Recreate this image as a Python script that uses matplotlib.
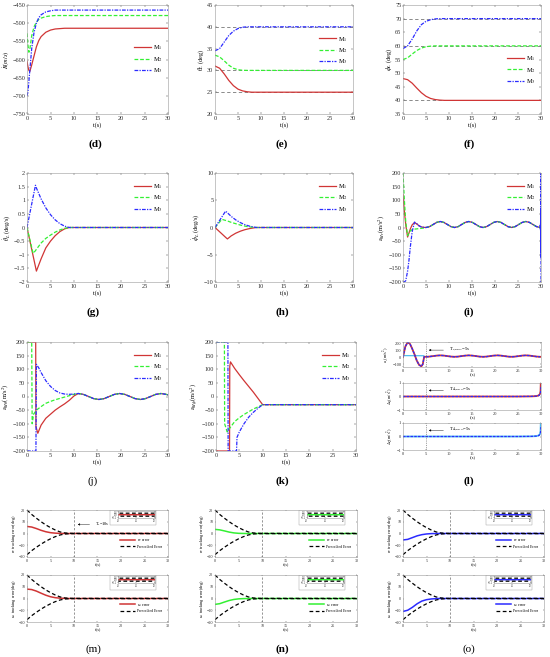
import numpy as np
import matplotlib.pyplot as plt
from matplotlib.patches import Rectangle

plt.rcParams['font.family'] = ['Liberation Serif', 'DejaVu Serif']
plt.rcParams['mathtext.fontset'] = 'stix'

# ---------------- data ----------------
names = ['M$_1$', 'M$_2$', 'M$_3$']

# (d) range rate
d_t = [0, 0.2, 0.4, 0.6, 1, 1.5, 2, 2.5, 3, 4, 5, 6, 8, 30]
d_m1 = [-605, -620, -630, -633, -615, -590, -565, -548, -537, -525, -519, -516, -514, -514]
d_m2 = [-528, -560, -580, -572, -535, -510, -497, -490, -486, -482, -480, -479, -479, -479]
d_m3 = [-700, -690, -660, -630, -570, -525, -500, -485, -477, -469, -466, -464, -464, -464]

# (e) theta_L, (f) phi_L
ef_t = [0, 1, 2, 3, 4, 5, 6, 7, 8, 9, 30]
e_m1 = [31, 30.5, 29.2, 27.7, 26.5, 25.7, 25.3, 25.1, 25.0, 25.0, 25.0]
e_m2 = [33.5, 33.1, 32.2, 31.2, 30.5, 30.15, 30.03, 30, 30, 30, 30]
e_m3 = [34.5, 35.0, 36.5, 38.0, 39.0, 39.6, 39.9, 40.0, 40, 40, 40]
e_ref = [25, 30, 40]
f_m1 = [48, 47.6, 46.3, 44.5, 42.8, 41.5, 40.7, 40.3, 40.1, 40, 40]
f_m2 = [55, 55.6, 57.0, 58.3, 59.2, 59.7, 59.9, 60, 60, 60, 60]
f_m3 = [59, 60, 62.5, 65.5, 67.8, 69.0, 69.6, 69.9, 70, 70, 70]
f_ref = [40, 60, 70]

# (g) theta_L rate
g_t = [0, 1.3, 1.8, 2, 3, 4, 5, 6, 7, 8, 9, 30]
g_m1 = [0, -1.04, -1.44, -1.6, -1.15, -0.75, -0.5, -0.3, -0.15, -0.05, 0, 0]
g_m2 = [0, -0.95, -0.85, -0.8, -0.57, -0.4, -0.28, -0.17, -0.09, -0.03, 0, 0]
g_m3 = [0, 1.12, 1.55, 1.45, 1.05, 0.72, 0.47, 0.28, 0.14, 0.05, 0, 0]

# (h) phi_L rate
h_t = [0, 1.5, 2.3, 2.7, 3.5, 4.5, 5.5, 6.5, 7.5, 8.5, 9, 30]
h_m1 = [0, -1.17, -1.8, -2.1, -1.55, -1.05, -0.68, -0.4, -0.2, -0.06, 0, 0]
h_m2 = [0, 1.5, 1.3, 1.2, 0.95, 0.7, 0.45, 0.25, 0.1, 0.03, 0, 0]
h_m3 = [0, 1.95, 3.0, 2.7, 2.05, 1.4, 0.9, 0.52, 0.25, 0.08, 0, 0]

# (i) acceleration, transient + shared wave + end burst
i_t = [0, 0.3, 0.6, 1.0, 1.3, 1.6, 2.0, 2.5, 3.0, 3.5, 4.0, 4.5, 5.0]
i_m1 = [120, 60, 10, -35, -20, -5, 10, 18, 13, 6, 2, 0.5, 0]
i_m2 = [200, 100, 20, -30, -18, -12, -8, -6, -5, -4, -3, -2, 0]
i_m3 = [-200, -200, -195, -160, -120, -70, -15, 20, 14, 6, 2, 0.5, 0]
i_wave_t = np.linspace(5, 29.8, 33)
i_wave = [0, 3.2, 11, 18.8, 22, 18.8, 11, 3.2, 0, 3.2, 11, 18.8, 22, 18.8, 11, 3.2,
          0, 3.2, 11, 18.8, 22, 18.8, 11, 3.2, 0, 3.2, 11, 18.8, 22, 18.8, 11, 3.2, 0]
i_tail_t = [29.8, 29.84, 29.87, 29.9, 29.92, 29.94, 29.96, 29.97, 29.98, 29.99, 30.0]
i_tail = [0, 8, -8, 15, -20, 30, -45, 70, -110, 200, -200]

# (j)
j_t1 = [0, 1.85, 1.9, 2.3, 3, 4, 5, 6, 7, 8, 9, 10, 10.9]
j_m1 = [200, 200, -110, -135, -105, -80, -65, -50, -38, -27, -14, 2, 11]
j_t2 = [0, 1.0, 1.1, 1.4, 2, 3, 4, 5, 6, 7, 8, 9, 10, 10.9]
j_m2 = [200, 200, -100, -65, -50, -37, -25, -18, -12, -7, -2, 3, 8, 11]
j_t3 = [0, 1.9, 2.0, 2.5, 3, 4, 5, 6, 7, 8, 9, 10, 10.9]
j_m3 = [-200, -200, 118, 105, 88, 58, 37, 22, 13, 9, 8, 9, 11]
j_wave_t = [10.9, 12.0, 13.1, 14.2, 15.3, 16.4, 17.5, 18.6, 19.7, 20.8, 21.9, 23.0,
            24.1, 25.2, 26.3, 27.4, 28.5, 29.6, 30.0]
j_wave = [11, 7.8, 0, -7.8, -11, -7.8, 0, 7.8, 11, 7.8, 0, -7.8, -11, -7.8, 0, 7.8, 11, 7.8, 6]

# (k)
k_t1 = [0, 2.9, 2.95, 3.1, 4, 5, 6, 7, 8, 9, 10, 30]
k_m1 = [-200, -200, 110, 127, 103, 80, 58, 37, 16, -7, -30, -30]
k_t2 = [0, 1.8, 1.85, 2.4, 3, 4, 5, 6, 7, 8, 9, 10, 30]
k_m2 = [200, 200, -100, -130, -115, -92, -78, -66, -56, -46, -38, -30, -30]
k_t3 = [0, 2.55, 2.6, 4.4, 4.5, 5, 6, 7, 8, 9, 10, 30]
k_m3 = [200, 200, -200, -200, -150, -130, -100, -76, -58, -43, -30, -30]

# (l) three stacked plots
l1_t = [0, 0.5, 1, 1.5, 2, 2.5, 3, 3.5, 4, 4.3, 4.6, 5]
l1_val = [0, 150, 210, 190, 120, 40, -50, -110, -130, -100, 5, 5]
l1_wave_t = np.linspace(5, 29.8, 33)
l1_wave = [5, 8, 15, 22, 25, 22, 15, 8, 5, 8, 15, 22, 25, 22, 15, 8,
           5, 8, 15, 22, 25, 22, 15, 8, 5, 8, 15, 22, 25, 22, 15, 8, 5]
l1_ref_t = [0, 4.5]
l1_ref = [22, 20]
l2_t = [0, 25, 28, 29, 29.5, 29.8, 29.9, 29.95, 30]
l2_red = [0, 0, 0.01, 0.03, 0.08, 0.2, 0.4, 1.0, 1.6]
l2_blue = [0, 0, 0.01, 0.03, 0.07, 0.15, 0.3, 0.5, 0.8]
l3_lb = [0, 0, 0.01, 0.03, 0.08, 0.2, 0.4, 1.0, 1.6]

# prescribed error envelope for (m)-(o)
pb_t = [0, 1, 2, 3, 4, 5, 6, 7, 8, 9, 10, 30]
pb_up = [20, 16.2, 13, 10, 7.3, 5, 3, 1.4, 0.5, 0.2, 0.12, 0.12]
pb_lo = [-18, -14.6, -11.7, -9, -6.6, -4.5, -2.7, -1.3, -0.45, -0.18, -0.12, -0.12]

# ---------------- drawing ----------------
W, H = 550, 657
RED, GREEN, BLUE, LBLUE = '#D03535', '#33F033', '#2B2BFF', '#4DBEEE'
STY = [dict(color=RED, ls='-', lw=0.9),
       dict(color=GREEN, ls=(0, (3, 1.5)), lw=0.9),
       dict(color=BLUE, ls=(0, (3, 1, 1, 1)), lw=0.9)]

fig = plt.figure(figsize=(5.5, 6.57), dpi=100)


def box(l, t, r, b):
    return fig.add_axes([l / W, 1 - b / H, (r - l) / W, (b - t) / H])


def dress(ax, fs=4.5, ln=1.5, pad=1.2):
    ax.tick_params(direction='in', top=True, right=True, length=ln, width=0.3,
                   labelsize=fs, pad=pad, colors='#303030')
    for s in ax.spines.values():
        s.set_linewidth(0.4)
        s.set_color('#999999')


def tag(x, y, s, bold=True):
    fig.text(x / W, 1 - y / H, s, ha='center', va='center', fontsize=8,
             fontweight='bold' if bold else 'normal')


def mplot(ax, series, ylim, yticks, ylabel, legy=0.97, refs=None):
    if refs is not None:
        for r in refs:
            ax.plot([0, 30], [r, r], color='#777777', ls=(0, (4, 3)), lw=0.6)
    for (t, y), st, nm in zip(series, STY, names):
        ax.plot(t, y, label=nm, **st)
    ax.set_xlim(0, 30)
    ax.set_ylim(*ylim)
    ax.set_xticks(range(0, 31, 5))
    ax.set_yticks(yticks)
    ax.set_xlabel('t(s)', fontsize=4.5, labelpad=1)
    ax.set_ylabel(ylabel, fontsize=4.5, labelpad=1)
    dress(ax)
    ax.legend(loc='upper right', bbox_to_anchor=(1.0, legy), frameon=False,
              fontsize=4.5, handlelength=2.6, handletextpad=0.3, labelspacing=0.4)


# row 1
ax = box(27, 5, 168, 114)
mplot(ax, [(d_t, d_m1), (d_t, d_m2), (d_t, d_m3)], (-750, -450), range(-750, -449, 50),
      r'$\dot{R}(m/s)$', legy=0.70)
tag(95, 144, '(d)')
ax = box(215, 5, 353, 114)
mplot(ax, [(ef_t, e_m1), (ef_t, e_m2), (ef_t, e_m3)], (20, 45), range(20, 46, 5),
      r'$\theta_L$ (deg)', legy=0.78, refs=e_ref)
tag(282, 144, '(e)')
ax = box(403, 5, 541, 114)
mplot(ax, [(ef_t, f_m1), (ef_t, f_m2), (ef_t, f_m3)], (35, 75), range(35, 76, 5),
      r'$\phi_L$ (deg)', legy=0.60, refs=f_ref)
tag(469, 144, '(f)')

# row 2
ax = box(27, 173, 168, 282)
mplot(ax, [(g_t, g_m1), (g_t, g_m2), (g_t, g_m3)], (-2, 2), np.arange(-2, 2.01, 0.5),
      r'$\dot{\theta}_L$ (deg/s)')
ax.set_yticklabels(['\u22122', '\u22121.5', '\u22121', '\u22120.5', '0', '0.5', '1', '1.5', '2'])
tag(93, 312, '(g)')
ax = box(215, 173, 353, 282)
mplot(ax, [(h_t, h_m1), (h_t, h_m2), (h_t, h_m3)], (-10, 10), range(-10, 11, 5),
      r'$\dot{\phi}_L$ (deg/s)')
tag(282, 312, '(h)')
ax = box(403, 173, 541, 282)
i_series = [(np.r_[i_t, i_wave_t], np.r_[m, i_wave]) for m in (i_m1, i_m2, i_m3)]
i_series[2] = (np.r_[i_series[2][0], i_tail_t], np.r_[i_series[2][1], i_tail])
mplot(ax, i_series, (-200, 200), range(-200, 201, 50), r'a$_{Mr}$(m/s$^2$)')
tag(469, 312, '(i)')

# row 3
ax = box(27, 342, 168, 451)
j_series = [(np.r_[t, j_wave_t[1:]], np.r_[m, j_wave[1:]])
            for t, m in ((j_t1, j_m1), (j_t2, j_m2), (j_t3, j_m3))]
mplot(ax, j_series, (-200, 200), range(-200, 201, 50), r'a$_{M\theta}$(m/s$^2$)')
tag(93, 481, '(j)', bold=False)
ax = box(216, 342, 356, 451)
mplot(ax, [(k_t1, k_m1), (k_t2, k_m2), (k_t3, k_m3)], (-200, 200), range(-200, 201, 50),
      r'a$_{M\phi}$(m/s$^2$)')
tag(282, 481, '(k)')

# (l)
rows_l = [(342, 367), (383, 410), (423, 450)]
labels_l = [r'a$_c$(m/s$^2$)', r'$\Delta_1$(m/s$^2$)', r'$\Delta_2$(m/s$^2$)']
for k, (tp, bt) in enumerate(rows_l):
    ax = box(403, tp, 541, bt)
    if k == 0:
        ax.plot(l1_ref_t, l1_ref, color=LBLUE, lw=0.9)
        tt = np.r_[l1_t, l1_wave_t[1:]]
        yy = np.r_[l1_val, l1_wave[1:]]
        ax.plot(tt, yy, color=RED, lw=1.3)
        ax.plot(tt, yy, color=BLUE, lw=0.9, ls=(0, (2, 1)))
        ax.set_ylim(-140, 215)
        ax.set_yticks([-100, 0, 100, 200])
        ya = 100
        txt = r'T$_{s,EEO}$=5s'
    else:
        if k == 1:
            ax.plot(l2_t, l2_red, color=RED, lw=1.3)
            ax.plot(l2_t, l2_blue, color=BLUE, lw=0.9, ls=(0, (2, 1)))
        else:
            ax.plot(l2_t, l3_lb, color=LBLUE, lw=1.3)
            ax.plot(l2_t, l2_blue, color=BLUE, lw=0.9, ls=(0, (2, 1)))
        ax.set_ylim(-1, 1)
        ax.set_yticks([-1, 0, 1])
        ya = 0.45
        txt = r'T$_{\Delta,EEO}$=5s'
    ax.axvline(5, color='#555555', ls=(0, (2, 2)), lw=0.4)
    ax.annotate(txt, xy=(5, ya), xytext=(10, ya), fontsize=3.5, va='center',
                arrowprops=dict(arrowstyle='-|>', lw=0.3, color='k', mutation_scale=3))
    ax.set_xlim(0, 30)
    ax.set_xticks(range(0, 31, 5))
    ax.set_xlabel('t(s)', fontsize=3.2, labelpad=0.5)
    ax.set_ylabel(labels_l[k], fontsize=3.2, labelpad=0.5)
    dress(ax, fs=3.2, ln=1)
tag(469, 481, '(l)')

# (m)-(o): tracking errors with prescribed envelope
err_sets = [
    (RED, [np.subtract(e_m1, e_ref[0]), np.subtract(f_m1, f_ref[0])]),
    (GREEN, [np.subtract(e_m2, e_ref[1]), np.subtract(f_m2, f_ref[1])]),
    (BLUE, [np.subtract(e_m3, e_ref[2]), np.subtract(f_m3, f_ref[2])]),
]
cols = [(27, 168), (215, 357), (403, 544)]
rows = [(510, 557), (575, 622)]
enames = [r'e$_\theta$', r'e$_\phi$']
for c, ((l, r), (color, errs)) in enumerate(zip(cols, err_sets)):
    for k, (tp, bt) in enumerate(rows):
        ax = box(l, tp, r, bt)
        for a, full in ((ax, True), (ax.inset_axes([0.645, 0.82, 0.26, 0.16]), False)):
            a.plot(ef_t, errs[k], color=color, lw=1.1, label=enames[k] + ' error')
            a.plot(pb_t, pb_up, color='k', ls=(0, (3, 2)), lw=0.9, label='Prescribed Error')
            a.plot(pb_t, pb_lo, color='k', ls=(0, (3, 2)), lw=0.9)
            if full:
                a.axvline(10, color='#444444', ls=(0, (4, 3)), lw=0.4)
                a.set_xlim(0, 30)
                a.set_ylim(-20, 20)
                a.set_xticks(range(0, 31, 5))
                a.set_yticks(range(-20, 21, 10))
                a.set_xlabel('t(s)', fontsize=3, labelpad=0.5)
                a.set_ylabel(enames[k] + ' tracking error(deg)', fontsize=3.1, labelpad=0.5)
                a.legend(loc='center right', bbox_to_anchor=(0.98, 0.3), frameon=False,
                         fontsize=2.8, handlelength=4, handletextpad=0.4, labelspacing=0.3)
                dress(a, fs=3, ln=1)
            else:
                a.set_xlim(20, 30)
                a.set_ylim(-0.3, 0.3)
                a.set_xticks([20, 25, 30])
                a.set_yticks([-0.2, 0, 0.2])
                dress(a, fs=2.0, ln=0.8, pad=0.6)
        ax.add_patch(Rectangle((0.59, 0.69), 0.325, 0.31, transform=ax.transAxes,
                               facecolor='white', edgecolor='#999999', lw=0.3, zorder=2.5))
        if c == 0 and k == 0:
            ax.annotate(r'T$_s$=10s', xy=(10.2, 7.7), xytext=(14.5, 7.7), fontsize=3.2,
                        va='center',
                        arrowprops=dict(arrowstyle='-|>', lw=0.3, color='k', mutation_scale=3))

tag(93, 649, '(m)', bold=False)
tag(282, 649, '(n)')
tag(469, 649, '(o)', bold=False)

fig.savefig('out.png', dpi=100)
